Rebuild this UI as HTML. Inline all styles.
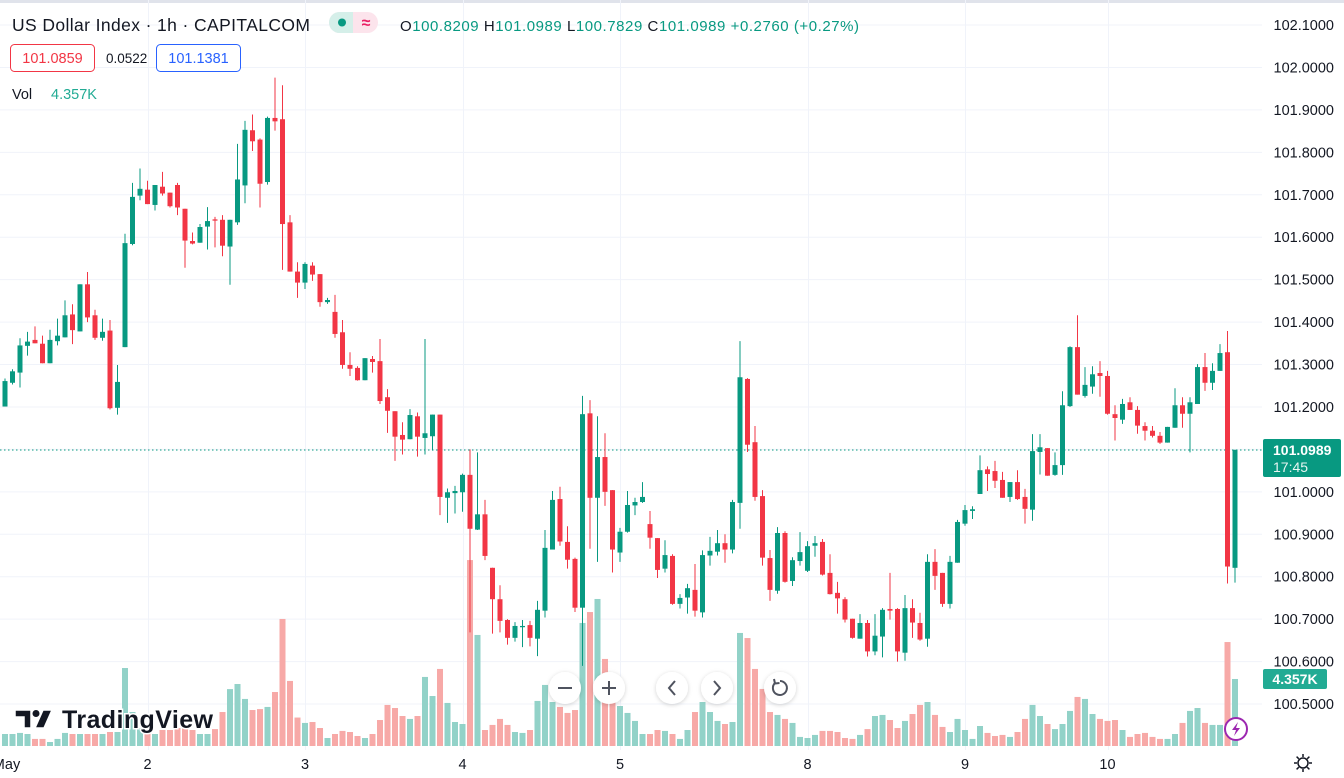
<!DOCTYPE html>
<html><head><meta charset="utf-8">
<style>
html,body{margin:0;padding:0;background:#fff;}
body{width:1344px;height:778px;overflow:hidden;font-family:"Liberation Sans",sans-serif;}
svg{display:block;}
text{font-family:"Liberation Sans",sans-serif;}
</style></head>
<body>
<svg id="chart" width="1344" height="778" viewBox="0 0 1344 778" xmlns="http://www.w3.org/2000/svg">
  <defs>
    <filter id="sh" x="-50%" y="-50%" width="200%" height="200%">
      <feDropShadow dx="0" dy="1" stdDeviation="2" flood-color="#000" flood-opacity="0.18"/>
    </filter>
  </defs>
  <rect x="0" y="0" width="1344" height="3" fill="#e0e3eb"/>
  <g id="grid"></g>
  <g id="volumes"></g>
  <line x1="0" y1="450" x2="1262" y2="450" stroke="#089981" stroke-width="1" stroke-dasharray="1.5,2.5"/>
  <g id="candles"></g>
  <g id="yaxis"></g>
  <g id="xaxis"></g>

  <!-- header -->
  <text x="12" y="31" font-size="17.5" fill="#131722" textLength="298">US Dollar Index · 1h · CAPITALCOM</text>
  <g>
    <rect x="329" y="12" width="49" height="21" rx="10.5" fill="#fce4ec"/>
    <path d="M339.5 12 H353 V33 H339.5 A10.5 10.5 0 0 1 339.5 12 Z" fill="#d5efe9"/>
    <circle cx="342" cy="22.5" r="4" fill="#089981"/>
    <text x="366" y="28" font-size="16" font-weight="bold" fill="#e91e63" text-anchor="middle">≈</text>
  </g>
  <text x="400" y="31" font-size="15" fill="#089981" textLength="459"><tspan fill="#131722">O</tspan>100.8209 <tspan fill="#131722">H</tspan>101.0989 <tspan fill="#131722">L</tspan>100.7829 <tspan fill="#131722">C</tspan>101.0989 +0.2760 (+0.27%)</text>
  <g>
    <rect x="10.5" y="44.5" width="84" height="27" rx="4" fill="#fff" stroke="#f23645"/>
    <text x="52.5" y="63" font-size="14.5" fill="#f23645" text-anchor="middle">101.0859</text>
  </g>
  <text x="106" y="63" font-size="13.5" fill="#131722">0.0522</text>
  <g>
    <rect x="156.5" y="44.5" width="84" height="27" rx="4" fill="#fff" stroke="#2962ff"/>
    <text x="198.5" y="63" font-size="14.5" fill="#2962ff" text-anchor="middle">101.1381</text>
  </g>
  <text x="12" y="99" font-size="14.5" fill="#131722">Vol</text>
  <text x="51" y="99" font-size="14.5" fill="#22ab94">4.357K</text>

  <!-- last price tag -->
  <g>
    <rect x="1263" y="439" width="78" height="38" rx="2" fill="#089981"/>
    <text x="1273" y="455" font-size="14" font-weight="bold" fill="#fff">101.0989</text>
    <text x="1273" y="472" font-size="14" fill="#e8f5f2">17:45</text>
  </g>
  <g>
    <rect x="1263" y="669" width="64" height="20" rx="2" fill="#22ab94"/>
    <text x="1295" y="684" font-size="14" font-weight="bold" fill="#fff" text-anchor="middle">4.357K</text>
  </g>

  <!-- nav buttons -->
  <g filter="url(#sh)">
    <circle cx="565" cy="688" r="16" fill="#fff"/>
    <line x1="558" y1="688" x2="572" y2="688" stroke="#50535e" stroke-width="2"/>
  </g>
  <g filter="url(#sh)">
    <circle cx="609" cy="688" r="16" fill="#fff"/>
    <line x1="602" y1="688" x2="616" y2="688" stroke="#50535e" stroke-width="2"/>
    <line x1="609" y1="681" x2="609" y2="695" stroke="#50535e" stroke-width="2"/>
  </g>
  <g filter="url(#sh)">
    <circle cx="672" cy="688" r="16" fill="#fff"/>
    <polyline points="675,681 669,688 675,695" fill="none" stroke="#50535e" stroke-width="2"/>
  </g>
  <g filter="url(#sh)">
    <circle cx="717" cy="688" r="16" fill="#fff"/>
    <polyline points="714,681 720,688 714,695" fill="none" stroke="#50535e" stroke-width="2"/>
  </g>
  <g filter="url(#sh)">
    <circle cx="780" cy="688" r="16" fill="#fff"/>
    <path d="M775 683 A7 7 0 1 0 780 681" fill="none" stroke="#50535e" stroke-width="2"/>
    <polyline points="774,679 775,683.5 779.5,683" fill="none" stroke="#50535e" stroke-width="2"/>
  </g>

  <!-- logo -->
  <g>
    <path d="M15 710 H31 V728 H24 V717 H15 Z" fill="#131722" stroke="#fff" stroke-width="1.5"/>
    <circle cx="36" cy="713.5" r="3.5" fill="#131722"/>
    <path d="M43 710 H52 L44 728 H35 Z" fill="#131722" stroke="#fff" stroke-width="1.5"/>
    <text x="62" y="728" font-size="25" font-weight="bold" fill="#131722" stroke="#fff" stroke-width="3" paint-order="stroke" textLength="151">TradingView</text>
  </g>

  <g>
    <circle cx="1236" cy="729" r="11" fill="#fff" stroke="#9c27b0" stroke-width="2"/>
    <path d="M1238 722 L1232 730 H1236 L1234 736 L1240 728 H1236 Z" fill="#9c27b0"/>
  </g>
  <g>
    <circle cx="1303" cy="763" r="5" fill="none" stroke="#131722" stroke-width="1.5"/>
    <g stroke="#131722" stroke-width="1.5">
      <line x1="1303" y1="754" x2="1303" y2="757"/><line x1="1303" y1="769" x2="1303" y2="772"/>
      <line x1="1294" y1="763" x2="1297" y2="763"/><line x1="1309" y1="763" x2="1312" y2="763"/>
      <line x1="1296.6" y1="756.6" x2="1298.8" y2="758.8"/><line x1="1307.2" y1="767.2" x2="1309.4" y2="769.4"/>
      <line x1="1296.6" y1="769.4" x2="1298.8" y2="767.2"/><line x1="1307.2" y1="758.8" x2="1309.4" y2="756.6"/>
    </g>
  </g>
</svg>
<script>
const opens=[101.201,101.257,101.281,101.344,101.358,101.349,101.303,101.355,101.364,101.418,101.378,101.489,101.416,101.363,101.380,101.198,101.341,101.584,101.698,101.712,101.676,101.719,101.705,101.723,101.667,101.591,101.587,101.625,101.642,101.641,101.578,101.635,101.722,101.852,101.830,101.730,101.881,101.878,101.635,101.519,101.493,101.533,101.513,101.447,101.424,101.376,101.299,101.292,101.263,101.313,101.308,101.223,101.190,101.134,101.124,101.178,101.127,101.131,101.182,100.986,100.997,100.999,101.040,100.911,100.947,100.821,100.747,100.698,100.656,100.681,100.686,100.654,100.720,100.864,100.983,100.882,100.842,100.727,101.185,100.986,101.082,101.004,100.857,100.906,100.968,100.976,100.924,100.891,100.819,100.849,100.736,100.751,100.769,100.716,100.850,100.859,100.879,100.864,100.974,101.266,101.117,100.990,100.844,100.767,100.903,100.790,100.837,100.814,100.873,100.882,100.809,100.762,100.747,100.701,100.654,100.691,100.624,100.659,100.724,100.724,100.621,100.726,100.691,100.654,100.835,100.809,100.736,100.833,100.925,100.955,100.995,101.053,101.049,101.028,100.988,101.023,100.988,100.958,101.094,101.103,101.040,101.063,101.202,101.341,101.226,101.248,101.280,101.273,101.183,101.170,101.211,101.193,101.155,101.144,101.132,101.116,101.151,101.204,101.184,101.207,101.294,101.257,101.285,101.329,100.821];
const highs=[101.267,101.289,101.362,101.377,101.390,101.368,101.382,101.408,101.451,101.442,101.489,101.518,101.429,101.408,101.405,101.299,101.608,101.728,101.762,101.733,101.723,101.754,101.705,101.728,101.667,101.611,101.631,101.671,101.648,101.652,101.641,101.820,101.874,101.889,101.833,101.884,101.976,101.958,101.652,101.541,101.541,101.541,101.513,101.457,101.464,101.405,101.329,101.296,101.315,101.320,101.360,101.242,101.190,101.164,101.195,101.187,101.360,101.182,101.182,101.008,101.014,101.043,101.100,101.093,100.981,100.821,100.780,100.700,100.693,100.698,100.696,100.743,100.910,101.002,101.012,100.919,100.845,101.226,101.216,101.178,101.138,101.004,100.915,101.002,100.986,101.023,100.955,100.891,100.886,100.853,100.759,100.783,100.830,100.862,100.894,100.910,100.900,100.981,101.355,101.268,101.155,101.004,100.863,100.917,100.907,100.846,100.905,100.884,100.896,100.889,100.853,100.788,100.752,100.701,100.712,100.698,100.712,100.726,100.809,100.726,100.757,100.747,100.715,100.853,100.865,100.809,100.849,100.934,100.969,100.966,101.086,101.060,101.073,101.047,101.023,101.051,101.007,101.136,101.136,101.103,101.093,101.237,101.343,101.416,101.294,101.296,101.308,101.285,101.204,101.219,101.223,101.202,101.164,101.155,101.141,101.153,101.244,101.223,101.223,101.301,101.327,101.303,101.348,101.379,101.099];
const lows=[101.201,101.253,101.246,101.321,101.350,101.303,101.303,101.345,101.364,101.348,101.378,101.400,101.358,101.356,101.194,101.182,101.341,101.581,101.687,101.678,101.663,101.698,101.670,101.652,101.528,101.583,101.587,101.571,101.576,101.555,101.488,101.629,101.680,101.803,101.670,101.724,101.851,101.523,101.519,101.457,101.478,101.497,101.436,101.443,101.363,101.290,101.273,101.262,101.263,101.281,101.207,101.139,101.073,101.088,101.124,101.083,101.088,101.097,100.945,100.927,100.949,100.953,100.669,100.910,100.839,100.666,100.669,100.640,100.647,100.634,100.636,100.613,100.704,100.864,100.873,100.819,100.717,100.590,100.866,100.835,100.967,100.810,100.835,100.904,100.945,100.974,100.866,100.797,100.810,100.734,100.725,100.713,100.706,100.704,100.826,100.850,100.833,100.855,100.913,101.094,100.979,100.826,100.743,100.760,100.786,100.778,100.826,100.811,100.847,100.803,100.758,100.713,100.692,100.654,100.654,100.612,100.615,100.610,100.699,100.600,100.602,100.656,100.649,100.635,100.769,100.729,100.725,100.833,100.920,100.936,100.995,101.002,101.009,100.986,100.976,100.981,100.925,100.932,101.041,101.038,101.038,101.040,101.200,101.229,101.222,101.231,101.224,101.182,101.121,101.160,101.193,101.137,101.121,101.128,101.113,101.116,101.151,101.151,101.093,101.207,101.238,101.240,101.285,100.784,100.786];
const closes=[101.261,101.284,101.345,101.354,101.350,101.303,101.358,101.368,101.416,101.381,101.489,101.411,101.363,101.377,101.197,101.259,101.586,101.695,101.714,101.678,101.723,101.703,101.673,101.670,101.592,101.585,101.624,101.638,101.639,101.580,101.641,101.736,101.853,101.826,101.726,101.881,101.873,101.631,101.519,101.493,101.537,101.512,101.447,101.452,101.372,101.299,101.290,101.263,101.315,101.306,101.214,101.191,101.130,101.123,101.181,101.130,101.138,101.182,100.988,100.999,101.002,101.040,100.913,100.947,100.849,100.747,100.696,100.656,100.684,100.684,100.656,100.722,100.868,100.981,100.883,100.840,100.727,101.183,100.986,101.082,101.000,100.864,100.906,100.969,100.976,100.988,100.892,100.816,100.851,100.736,100.750,100.773,100.720,100.851,100.861,100.879,100.864,100.976,101.270,101.111,100.988,100.845,100.769,100.903,100.788,100.839,100.858,100.872,100.879,100.805,100.759,100.749,100.699,100.656,100.691,100.624,100.661,100.722,100.720,100.624,100.726,100.692,100.652,100.835,100.802,100.736,100.835,100.929,100.957,100.959,101.051,101.042,101.026,100.986,101.023,100.983,100.960,101.096,101.105,101.038,101.063,101.204,101.341,101.229,101.252,101.277,101.273,101.184,101.174,101.207,101.193,101.156,101.144,101.132,101.116,101.153,101.204,101.184,101.211,101.294,101.257,101.285,101.327,100.824,101.099];
const volumes=[0.78,0.78,0.85,0.78,0.46,0.46,0.26,0.46,0.85,0.78,0.78,0.78,0.78,0.78,0.91,0.91,5.07,2.21,1.17,1.17,0.78,1.04,1.04,1.17,1.17,1.04,0.78,0.78,1.10,2.21,3.70,4.03,3.06,2.34,2.40,2.54,3.51,8.26,4.23,1.85,1.50,1.56,1.17,0.52,0.78,0.98,0.91,0.65,0.52,0.78,1.69,2.67,2.47,1.95,1.76,1.95,4.49,3.25,5.01,2.80,1.56,1.43,12.09,7.22,1.04,1.37,1.76,1.37,0.91,0.85,1.04,2.93,3.97,2.86,2.54,2.15,2.34,8.00,8.71,9.56,5.66,3.51,2.60,2.15,1.63,0.78,0.78,1.04,0.98,0.78,0.46,1.04,2.21,2.86,2.21,1.63,1.43,1.56,7.35,7.02,5.01,3.71,2.21,2.02,1.76,1.50,0.59,0.52,0.72,0.98,0.98,0.91,0.52,0.46,0.72,1.10,1.95,2.02,1.69,1.17,1.63,2.08,2.67,2.86,2.02,1.24,0.91,1.76,1.04,0.46,1.30,0.85,0.65,0.72,0.59,0.91,1.76,2.67,1.95,1.43,1.10,1.43,2.28,3.19,3.06,2.08,1.76,1.63,1.69,1.04,0.59,0.78,0.85,0.59,0.46,0.46,0.78,1.50,2.28,2.47,1.50,1.37,1.37,6.76,4.357];
const priceTicks=[102.1,102.0,101.9,101.8,101.7,101.6,101.5,101.4,101.3,101.2,101.1,101.0,100.9,100.8,100.7,100.6,100.5];
const dateLabels=["May","2","3","4","5","8","9","10"];
const dateIndex=[0.2,19,40,61,82,107,128,147];

const NS="http://www.w3.org/2000/svg";
const N=opens.length;
const STEP=7.5, LAST_X=1235;
function xScale(i){return LAST_X-STEP*(N-1-i);}
function yScale(p){return 25+(102.1-p)*424.4;}
function vScale(v){return v*15.38;}
const VBASE=746;
function mk(tag,attrs,parent){const e=document.createElementNS(NS,tag);for(const k in attrs)e.setAttribute(k,attrs[k]);parent.appendChild(e);return e;}

const grid=document.getElementById('grid');
priceTicks.forEach(function(p){
  const l=mk('line',{x1:0,x2:1262,y1:yScale(p),y2:yScale(p),stroke:'#f0f3fa','stroke-width':1},grid);
  
  
});
dateIndex.forEach(function(d,j){
  if(j===0)return;
  const x=Math.round(xScale(d))+0.5;
  const l=mk('line',{x1:x,x2:x,y1:0,y2:750,stroke:'#f0f3fa','stroke-width':1},grid);
  
  
});

const vg=document.getElementById('volumes');
for(let i=0;i<N;i++){
  const up=closes[i]>=opens[i];
  const h=vScale(volumes[i]);
  const r=mk('rect',{x:xScale(i)-3,y:VBASE-h,width:6,height:h,fill:up?'#92d2c8':'#f7a9a7'},vg);
  
  
}

const cg=document.getElementById('candles');
for(let i=0;i<N;i++){
  const up=closes[i]>=opens[i];
  const col=up?'#089981':'#f23645';
  const x=xScale(i);
  const g=mk('g',{},cg);
  
  
  mk('line',{x1:x,x2:x,y1:yScale(highs[i]),y2:yScale(lows[i]),stroke:col,'stroke-width':1},g);
  const t=yScale(Math.max(opens[i],closes[i])), b=yScale(Math.min(opens[i],closes[i]));
  mk('rect',{x:x-2.5,y:t,width:5,height:Math.max(1,b-t),fill:col},g);
}

const ya=document.getElementById('yaxis');
priceTicks.forEach(function(p){
  const t=mk('text',{x:1334,y:yScale(p)+5,'font-size':14.5,fill:'#131722','text-anchor':'end'},ya);
  t.textContent=p.toFixed(4);
  
  
});
const xa=document.getElementById('xaxis');
dateLabels.forEach(function(s,j){
  const t=mk('text',{x:xScale(dateIndex[j]),y:769,'font-size':14.5,fill:'#131722','text-anchor':'middle'},xa);
  t.textContent=s;
  
  
});
</script>
</body></html>
